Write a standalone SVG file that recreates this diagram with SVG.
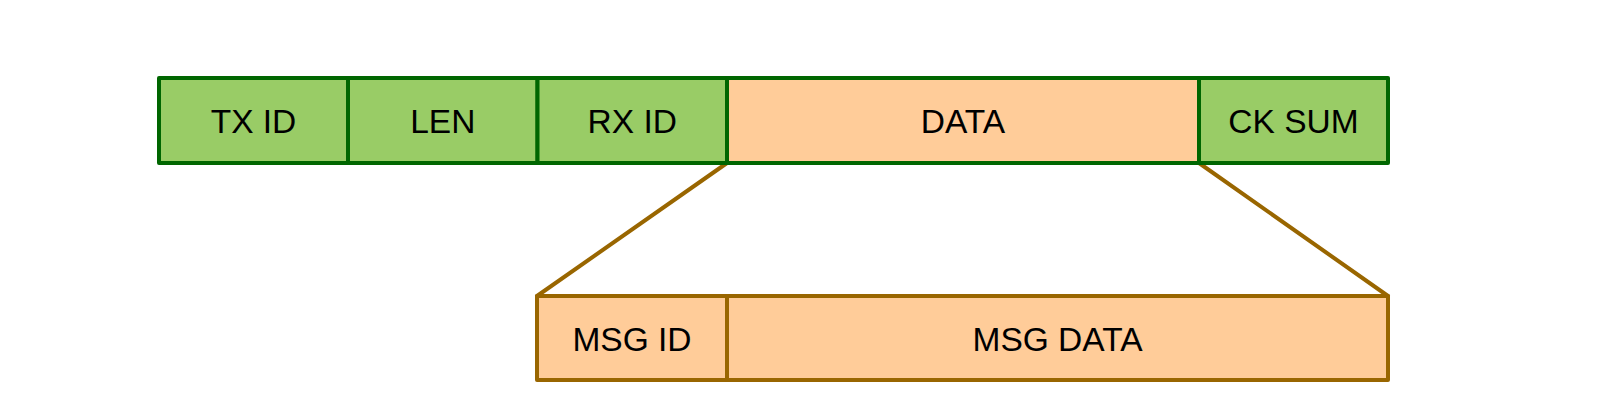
<svg xmlns="http://www.w3.org/2000/svg" width="1600" height="414" viewBox="0 0 1600 414">
<style>
.g{fill:#99CC66;stroke:#006600;stroke-width:4;stroke-linejoin:round}
.o{fill:#FFCC99;stroke:#006600;stroke-width:4;stroke-linejoin:round}
.b{fill:#FFCC99;stroke:#996600;stroke-width:4;stroke-linejoin:round}
.c{fill:none;stroke:#996600;stroke-width:4;stroke-linecap:round}
text{font-family:"Liberation Sans",Arial,sans-serif;font-size:33.5px;fill:#000;text-anchor:middle}
</style>
<rect width="1600" height="414" fill="#fff"/>
<g id="connectors">
<line class="c" x1="727" y1="163" x2="537" y2="296"/>
<line class="c" x1="1199" y1="163" x2="1388" y2="296"/>
</g>
<g id="txid"><rect class="g" x="159" y="78" width="189" height="85"/><text x="253.5" y="133">TX ID</text></g>
<g id="len"><rect class="g" x="348" y="78" width="189.5" height="85"/><text x="442.8" y="133">LEN</text></g>
<g id="rxid"><rect class="g" x="537.5" y="78" width="189.5" height="85"/><text x="632.3" y="133">RX ID</text></g>
<g id="data"><rect class="o" x="727" y="78" width="472" height="85"/><text x="963" y="133">DATA</text></g>
<g id="cksum"><rect class="g" x="1199" y="78" width="189" height="85"/><text x="1293.5" y="133">CK SUM</text></g>
<g id="msgid"><rect class="b" x="537" y="296" width="190" height="84"/><text x="632" y="350.5">MSG ID</text></g>
<g id="msgdata"><rect class="b" x="727" y="296" width="661" height="84"/><text x="1057.5" y="350.5">MSG DATA</text></g>
</svg>
